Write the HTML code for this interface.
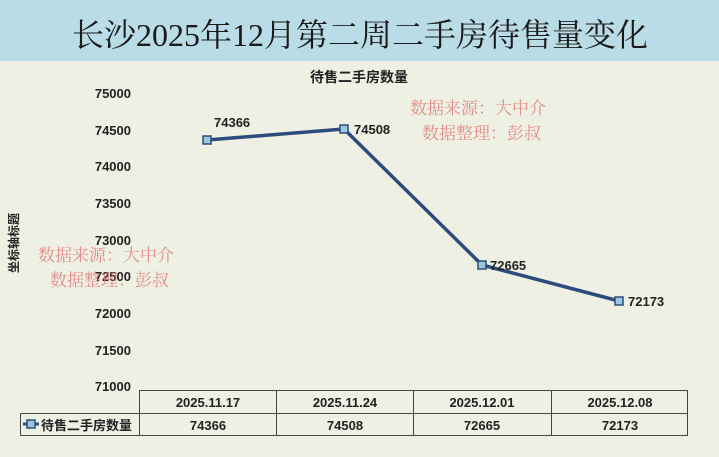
<!DOCTYPE html>
<html><head><meta charset="utf-8"><style>
html,body{margin:0;padding:0;width:719px;height:457px;overflow:hidden;background:#eef0e4;}
svg{display:block}
</style></head><body>
<svg width="719" height="457" xmlns="http://www.w3.org/2000/svg" font-family="Liberation Sans, Noto Sans CJK SC, sans-serif">
<rect x="0" y="0" width="719" height="457" fill="#eef0e4"/>
<rect x="0" y="0" width="719" height="61" fill="#b9dce7"/>
<text x="360" y="46" text-anchor="middle" font-size="32" fill="#1a1a1a" font-family="Liberation Serif, Noto Serif CJK SC, serif">长沙2025年12月第二周二手房待售量变化</text>
<text x="359" y="82" text-anchor="middle" font-size="14" font-weight="bold" fill="#222">待售二手房数量</text>
<g font-size="13" font-weight="bold" fill="#222" text-anchor="end">
<text x="131" y="98">75000</text>
<text x="131" y="135">74500</text>
<text x="131" y="171">74000</text>
<text x="131" y="208">73500</text>
<text x="131" y="245">73000</text>
<text x="131" y="281">72500</text>
<text x="131" y="318">72000</text>
<text x="131" y="355">71500</text>
<text x="131" y="391">71000</text>
</g>
<text transform="translate(18,243) rotate(-90)" text-anchor="middle" font-size="12" font-weight="bold" fill="#222">坐标轴标题</text>
<g font-size="17" fill="#e07a7a" fill-opacity="0.85" font-family="Liberation Serif, Noto Serif CJK SC, serif">
<text x="410" y="114">数据来源：大中介</text>
<text x="422" y="139">数据整理：彭叔</text>
<text x="38" y="261">数据来源：大中介</text>
<text x="50" y="286">数据整理：彭叔</text>
</g>
<polyline points="207,140 344,129 482,265 619,301" fill="none" stroke="#2c4d7c" stroke-width="3.5" stroke-linejoin="round"/>
<g fill="#9cc6dc" stroke="#2c4d7c" stroke-width="1.5">
<rect x="203" y="136" width="8" height="8"/>
<rect x="340" y="125" width="8" height="8"/>
<rect x="478" y="261" width="8" height="8"/>
<rect x="615" y="297" width="8" height="8"/>
</g>
<g font-size="13" font-weight="bold" fill="#222">
<text x="214" y="127">74366</text>
<text x="354" y="134">74508</text>
<text x="490" y="270">72665</text>
<text x="628" y="306">72173</text>
</g>
<g stroke="#444" stroke-width="1" fill="none">
<rect x="139.5" y="390.5" width="548" height="45"/>
<line x1="20.5" y1="413.5" x2="687.5" y2="413.5"/>
<line x1="20.5" y1="413.5" x2="20.5" y2="435.5"/>
<line x1="20.5" y1="435.5" x2="139.5" y2="435.5"/>
<line x1="276.5" y1="390.5" x2="276.5" y2="435.5"/>
<line x1="413.5" y1="390.5" x2="413.5" y2="435.5"/>
<line x1="551.5" y1="390.5" x2="551.5" y2="435.5"/>
</g>
<g font-size="13" font-weight="bold" fill="#222" text-anchor="middle">
<text x="208" y="407">2025.11.17</text>
<text x="345" y="407">2025.11.24</text>
<text x="482" y="407">2025.12.01</text>
<text x="620" y="407">2025.12.08</text>
<text x="208" y="430">74366</text>
<text x="345" y="430">74508</text>
<text x="482" y="430">72665</text>
<text x="620" y="430">72173</text>
</g>
<line x1="23" y1="424" x2="39" y2="424" stroke="#2c4d7c" stroke-width="3"/>
<rect x="27" y="420" width="8" height="8" fill="#9cc6dc" stroke="#2c4d7c" stroke-width="1.5"/>
<text x="41" y="430" font-size="13" font-weight="bold" fill="#222">待售二手房数量</text>
</svg>
</body></html>
